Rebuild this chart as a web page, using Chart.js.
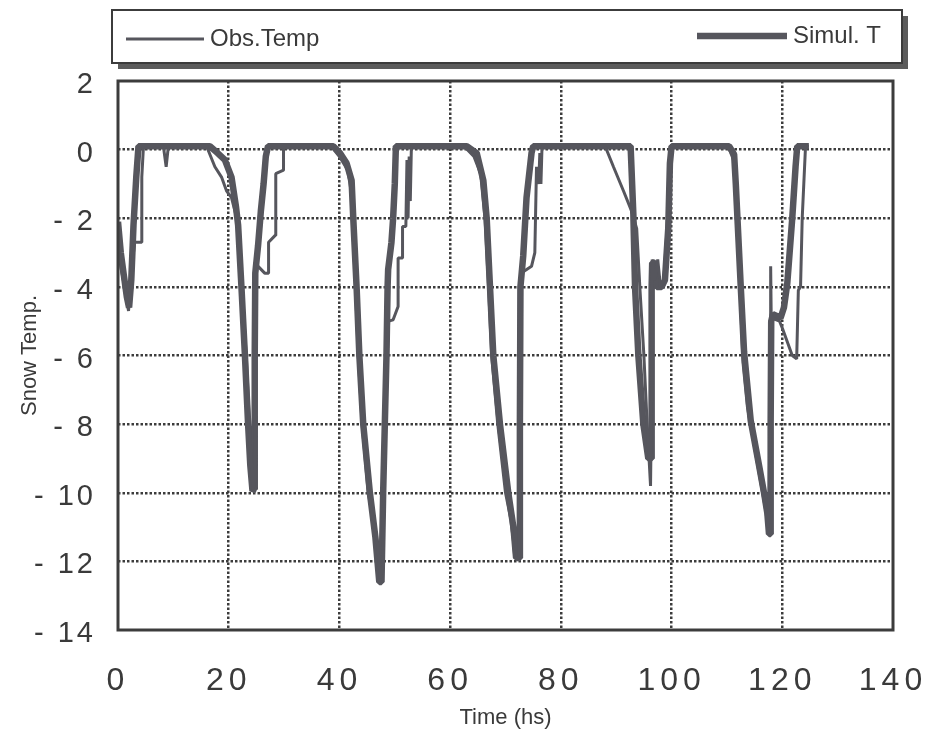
<!DOCTYPE html>
<html lang="en">
<head>
    <meta charset="UTF-8">
    <title>Snow Temp.</title>
    <script src="https://cdn.jsdelivr.net/npm/chart.js"></script>
    <style>
        body { margin: 0; background: #fff; }
        canvas { display: block; }
    </style>
</head>
<body>
    <canvas id="snowChart" width="926" height="734"></canvas>

    <script>
        // observed snow temperature (time in hours, temp in deg C)
        const obsTime = [
            0, 0.6, 1.2, 1.9, 2.3, 2.5, 2.8, 3.0, 4.3, 4.3, 4.6, 8.2, 8.7, 9.1,
            16.0, 17.5, 18.7, 19.6, 20.5, 21.3, 21.9, 22.5, 23.2, 23.8, 24.1, 24.4,
            24.6, 24.7, 26.5, 27.2, 27.2, 28.4, 28.5, 29.9, 29.9,
            38.5, 40.0, 41.5, 42.1, 42.4, 42.9, 43.4, 44.1, 45.2, 46.3, 46.9, 47.4,
            47.8, 48.1, 48.5, 48.9, 49.7, 50.6, 50.6, 51.4, 51.4, 52.0, 52.2, 52.4, 52.6, 52.8, 53.0,
            62.5, 64.3, 65.5, 66.3, 67.0, 67.5, 68.6, 70.0, 71.0, 71.6, 72.3,
            72.4, 72.5, 72.8, 74.7, 75.3, 75.6, 76.0, 76.2, 76.4, 76.6,
            88.0, 89.5, 91.3, 92.8, 93.7, 94.3, 95.0, 95.5, 96.2,
            96.4, 96.5, 97.0, 97.5, 98.0, 98.6, 99.3, 99.8,
            110.2, 111.2, 111.5, 111.8, 112.4, 112.9, 113.7, 114.8, 116.0, 117.0, 117.4,
            117.6, 117.8, 117.9, 118.0, 119.5, 120.0, 121.8, 122.6, 122.9, 123.3, 123.6, 124.2, 124.8
        ];
        const obsTemp = [
            -2.8, -3.5, -4.0, -4.7, -4.0, -3.4, -3.0, -2.7, -2.7, -0.8, 0.1, 0.1, -0.5, 0.1,
            0.1, -0.5, -0.8, -1.2, -1.4, -1.9, -2.6, -4.3, -6.1, -8.2, -9.2, -9.9,
            -9.7, -3.3, -3.6, -3.6, -2.7, -2.5, -0.7, -0.6, 0.1,
            0.1, -0.2, -0.6, -1.2, -2.2, -4.0, -6.0, -8.0, -10.0, -11.0, -11.5, -12.5,
            -12.2, -9.0, -6.5, -5.0, -4.96, -4.57, -3.16, -3.16, -2.24, -2.24, -0.3, -2.0, -0.2, -1.5, 0.1,
            0.1, -0.2, -0.7, -2.0, -4.2, -6.0, -8.0, -10.0, -10.8, -11.9, -11.9,
            -8.0, -4.0, -3.6, -3.4, -3.0, -0.5, -1.0, -0.1, -1.0, 0.1,
            0.1, -0.5, -1.2, -1.8, -2.3, -4.1, -6.0, -7.7, -9.8,
            -7.0, -3.2, -3.8, -3.2, -4.0, -3.8, -2.0, 0.1,
            0.1, -0.3, -1.2, -2.2, -4.2, -6.2, -7.5, -8.5, -9.6, -10.5, -11.0,
            -10.8, -7.0, -3.4, -4.9, -5.0, -5.2, -6.0, -6.1, -4.1, -4.0, -2.0, 0.1, 0.1
        ];

        // simulated snow temperature
        const simTime = [
            0, 0.5, 1.0, 1.6, 2.0, 2.4, 2.8, 3.3, 3.7, 16.6, 18.0, 19.3, 20.5, 21.3, 21.7,
            22.3, 22.9, 23.5, 23.9, 24.3, 24.6, 24.7, 24.8, 25.3, 25.8, 26.3, 26.7, 27.1,
            38.9, 40.1, 41.3, 42.2, 42.5, 43.1, 43.6, 44.3, 45.5, 46.5, 47.2, 47.6,
            47.9, 48.2, 48.5, 48.7, 48.8, 49.4, 49.7, 50.0, 50.2,
            63.0, 64.8, 66.0, 66.6, 67.2, 67.8, 69.0, 70.5, 71.7, 72.0, 72.5,
            72.6, 72.7, 73.2, 73.8, 74.7, 75.0,
            92.6, 93.1, 93.4, 94.0, 94.9, 95.8, 96.3,
            96.4, 96.5, 97.0, 97.3, 98.2, 98.8, 99.4, 99.7, 100.0,
            110.4, 111.3, 111.6, 111.9, 112.5, 113.1, 114.3, 115.8, 116.7, 117.3, 117.6, 117.8,
            117.9, 118.0, 118.3, 119.7, 120.3, 120.9, 121.8, 122.4, 122.7, 124.8
        ];
        const simTemp = [
            -2.1, -3.0, -3.6, -4.3, -4.6, -3.8, -2.2, -0.8, 0.1, 0.1, -0.1, -0.3, -0.8, -1.65, -2.2,
            -4.0, -5.9, -8.0, -9.2, -9.95, -9.9, -6.0, -3.6, -2.8, -1.8, -1.0, -0.2, 0.1,
            0.1, -0.1, -0.4, -0.9, -2.0, -4.0, -6.0, -8.0, -10.0, -11.3, -12.6, -12.6,
            -10.0, -8.0, -6.0, -4.0, -3.5, -2.7, -2.0, -1.0, 0.1,
            0.1, -0.1, -0.9, -2.0, -4.0, -6.0, -8.0, -10.0, -11.3, -11.9, -11.9,
            -8.0, -4.0, -3.1, -1.4, -0.1, 0.1,
            0.1, -1.9, -4.0, -6.0, -8.0, -9.0, -9.0,
            -4.0, -3.3, -3.3, -4.0, -4.0, -3.8, -2.3, -0.4, 0.1,
            0.1, -0.14, -1.0, -2.0, -4.0, -5.9, -7.9, -9.2, -10.0, -10.6, -11.2, -11.2,
            -8.0, -5.0, -4.8, -4.9, -4.6, -3.9, -2.0, -0.5, 0.1, 0.1
        ];

        const xTicks = [0, 20, 40, 60, 80, 100, 120, 140];
        const yTicks = [2, 0, -2, -4, -6, -8, -10, -12, -14];

        const lineColor = '#56565d';
        const inkColor = '#3a3a3a';
        const gridColor = '#3c3c3c';
        const fontFamily = "'Liberation Sans', Arial, sans-serif";

        function toPoints(times, temps) {
            return times.map((t, i) => ({ x: t, y: temps[i] }));
        }

        // canvas letter spacing for tick labels only
        const labelSpacing = { x: '5px', y: '3px' };
        const spacedTicks = {
            id: 'spacedTicks',
            beforeDraw(chart) {
                Object.values(chart.scales).forEach(scale => {
                    if (scale._spaced) return;
                    const draw = scale.drawLabels.bind(scale);
                    scale.drawLabels = (area) => {
                        chart.ctx.letterSpacing = labelSpacing[scale.id] || '0px';
                        draw(area);
                        chart.ctx.letterSpacing = '0px';
                    };
                    scale._spaced = true;
                });
            }
        };

        // plot frame and the boxed legend with drop shadow
        const frameAndLegend = {
            id: 'frameAndLegend',
            afterDraw(chart) {
                const { ctx, chartArea: a } = chart;
                ctx.save();
                ctx.strokeStyle = gridColor;
                ctx.lineWidth = 3;
                ctx.strokeRect(a.left, a.top, a.right - a.left, a.bottom - a.top);

                const bx = 112, by = 10, bw = 790, bh = 53;
                ctx.fillStyle = '#5c5c5c';
                ctx.fillRect(bx + 6, by + 6, bw, bh);
                ctx.fillStyle = '#fff';
                ctx.fillRect(bx, by, bw, bh);
                ctx.lineWidth = 2;
                ctx.strokeRect(bx, by, bw, bh);

                const ds = chart.data.datasets;
                ctx.font = '24px ' + fontFamily;
                ctx.textBaseline = 'middle';
                ctx.fillStyle = inkColor;
                ctx.strokeStyle = lineColor;

                ctx.lineWidth = ds[0].borderWidth;
                ctx.beginPath();
                ctx.moveTo(126, 39);
                ctx.lineTo(204, 39);
                ctx.stroke();
                ctx.textAlign = 'left';
                ctx.fillText(ds[0].label, 210, 39);

                ctx.lineWidth = ds[1].borderWidth;
                ctx.beginPath();
                ctx.moveTo(697, 36);
                ctx.lineTo(787, 36);
                ctx.stroke();
                ctx.fillText(ds[1].label, 793, 36);
                ctx.restore();
            }
        };

        const ctx = document.getElementById('snowChart').getContext('2d');

        new Chart(ctx, {
            type: 'line',
            data: {
                datasets: [
                    {
                        label: 'Obs.Temp',
                        data: toPoints(obsTime, obsTemp),
                        borderColor: lineColor,
                        borderWidth: 3,
                        borderJoinStyle: 'bevel',
                        pointRadius: 0,
                        tension: 0
                    },
                    {
                        label: 'Simul. T',
                        data: toPoints(simTime, simTemp),
                        borderColor: lineColor,
                        borderWidth: 6.5,
                        borderJoinStyle: 'bevel',
                        pointRadius: 0,
                        tension: 0
                    }
                ]
            },
            options: {
                responsive: false,
                animation: false,
                events: [],
                layout: { padding: { top: 81, right: 33, left: 0, bottom: 0 } },
                plugins: {
                    legend: { display: false },
                    tooltip: { enabled: false }
                },
                scales: {
                    x: {
                        type: 'linear',
                        min: xTicks[0],
                        max: xTicks[xTicks.length - 1],
                        afterBuildTicks: scale => { scale.ticks = xTicks.map(v => ({ value: v })); },
                        afterFit: scale => {
                            scale.height = 104;
                            scale.paddingLeft = 0;
                            scale.paddingRight = 0;
                        },
                        ticks: {
                            color: inkColor,
                            font: { family: fontFamily, size: 32 },
                            padding: 32,
                            maxRotation: 0
                        },
                        grid: {
                            color: c => (c.tick && (c.tick.value === 0 || c.tick.value === 140)) ? 'transparent' : gridColor,
                            lineWidth: 2.5,
                            drawTicks: false
                        },
                        border: { display: false, dash: [2.5, 2] },
                        title: {
                            display: true,
                            text: 'Time (hs)',
                            color: inkColor,
                            font: { family: fontFamily, size: 22 },
                            padding: { top: 0, bottom: 3 }
                        }
                    },
                    y: {
                        min: yTicks[yTicks.length - 1],
                        max: yTicks[0],
                        afterBuildTicks: scale => { scale.ticks = yTicks.map(v => ({ value: v })); },
                        afterFit: scale => {
                            scale.width = 118;
                            scale.paddingTop = 0;
                            scale.paddingBottom = 0;
                        },
                        ticks: {
                            color: inkColor,
                            font: { family: fontFamily, size: 29 },
                            padding: 22,
                            labelOffset: 4,
                            callback: v => v < 0 ? '- ' + Math.abs(v) : String(v)
                        },
                        grid: {
                            color: c => (c.tick && (c.tick.value === 2 || c.tick.value === -14)) ? 'transparent' : gridColor,
                            lineWidth: 2.5,
                            drawTicks: false
                        },
                        border: { display: false, dash: [2.5, 2] },
                        title: {
                            display: true,
                            text: 'Snow Temp.',
                            color: inkColor,
                            font: { family: fontFamily, size: 22 },
                            padding: { top: 17, bottom: 0 }
                        }
                    }
                }
            },
            plugins: [spacedTicks, frameAndLegend]
        });
    </script>
</body>
</html>
